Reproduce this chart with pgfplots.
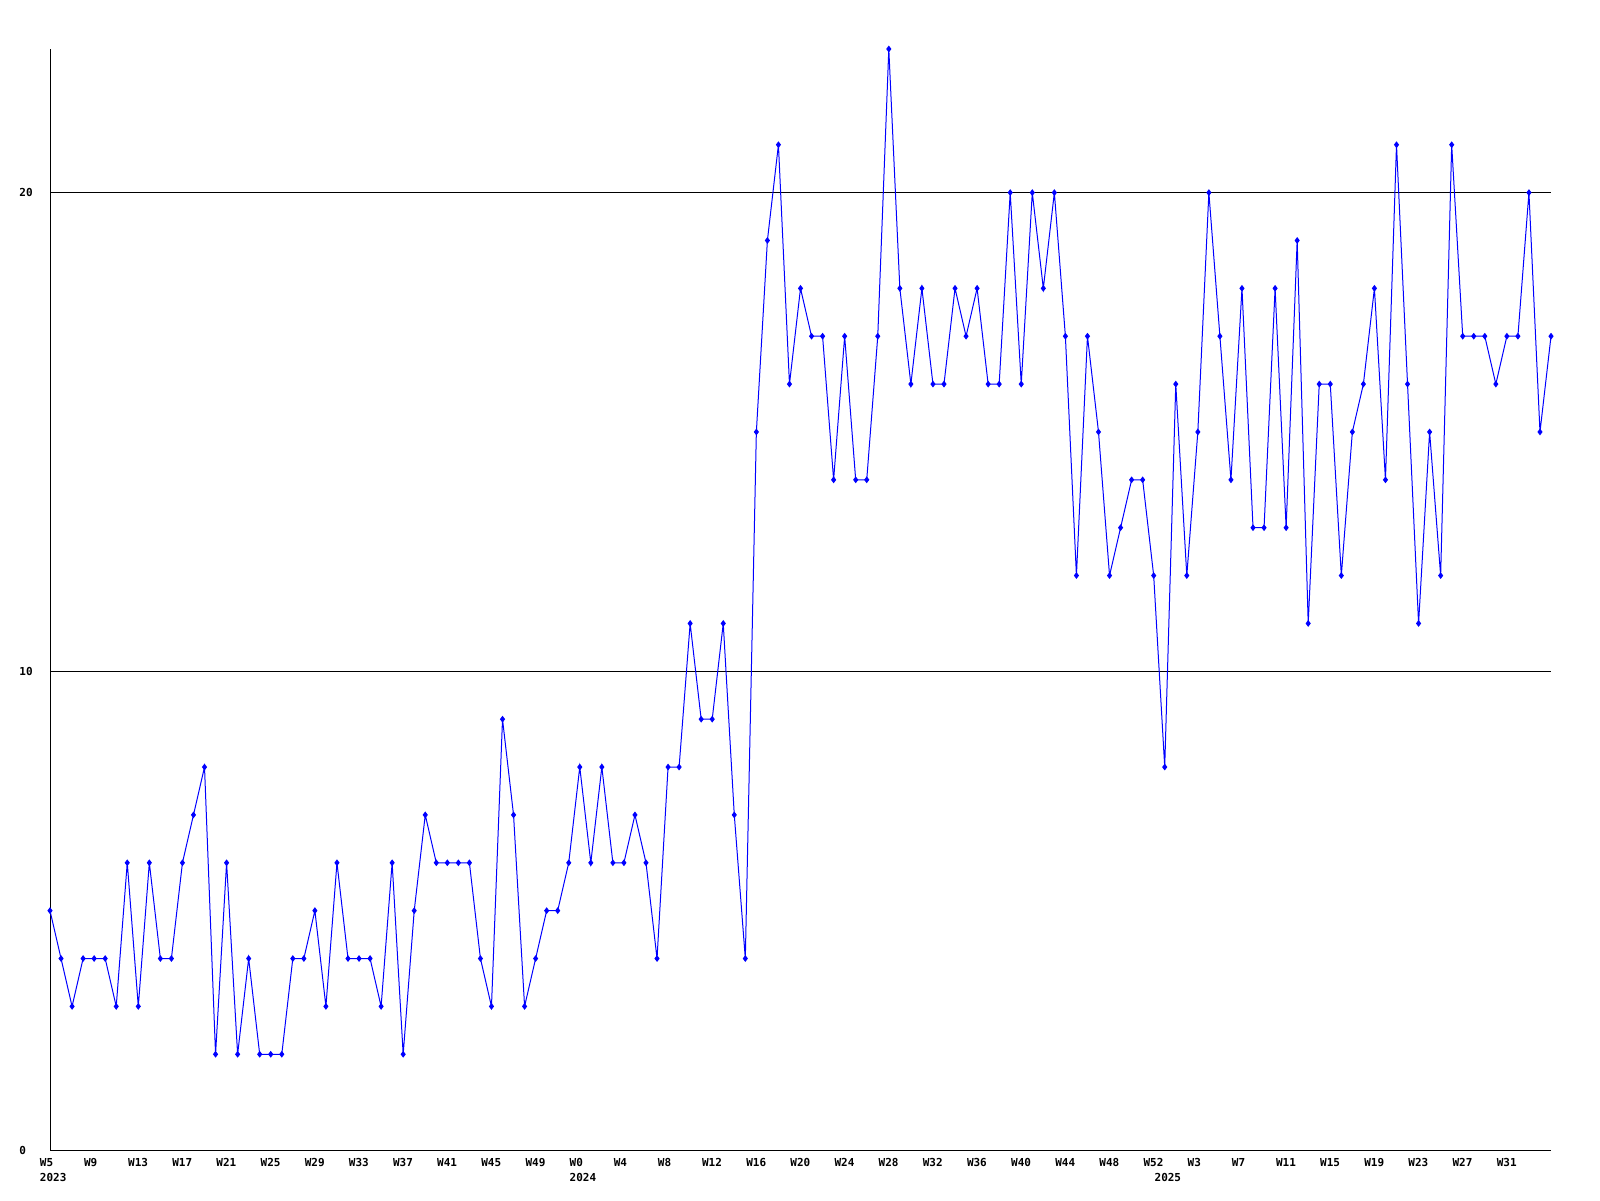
\documentclass[border=0pt]{standalone}
\usepackage{fontspec}
\usepackage{pgfplots}
\pgfplotsset{compat=1.18}
\newfontfamily\pix{DejaVu Sans Mono}
\begin{document}
\begin{tikzpicture}
\useasboundingbox (0,0) rectangle (800pt,600pt);
\begin{axis}[
  at={(25pt,25pt)}, anchor=south west,
  scale only axis, width=750.5pt, height=550.5pt,
  xmin=0, xmax=136, ymin=0, ymax=23,
  axis x line=bottom, axis y line=left,
  axis line style={-, black, line width=0.5pt},
  major tick length=0pt,
  clip=false,
  ytick={0,10,20}, yticklabels={0,10,20},
  ymajorgrids, grid style={black, line width=0.5pt},
  xtick={0,4,...,132},
  xticklabels={W5,W9,W13,W17,W21,W25,W29,W33,W37,W41,W45,W49,W0,W4,W8,W12,W16,W20,W24,W28,W32,W36,W40,W44,W48,W52,W3,W7,W11,W15,W19,W23,W27,W31},
  tick label style={font=\pix\bfseries\fontsize{5.5}{6}\selectfont, inner sep=0pt},
  xticklabel style={anchor=north west, xshift=-5.25pt, yshift=-4pt},
  yticklabel style={anchor=west, xshift=-15.5pt},
  extra x ticks={0,48,101},
  extra x tick labels={2023,2024,2025},
  extra x tick style={xmajorgrids=false, major tick length=0pt,
    xticklabel style={yshift=-7.6pt}},
  /pgf/number format/assume math mode=true,
]
\addplot[color={rgb,255:red,0;green,0;blue,255}, line width=0.5pt, mark=diamond*, mark size=1.3pt] table[x expr=\coordindex, y index=0, header=false] {
5
4
3
4
4
4
3
6
3
6
4
4
6
7
8
2
6
2
4
2
2
2
4
4
5
3
6
4
4
4
3
6
2
5
7
6
6
6
6
4
3
9
7
3
4
5
5
6
8
6
8
6
6
7
6
4
8
8
11
9
9
11
7
4
15
19
21
16
18
17
17
14
17
14
14
17
23
18
16
18
16
16
18
17
18
16
16
20
16
20
18
20
17
12
17
15
12
13
14
14
12
8
16
12
15
20
17
14
18
13
13
18
13
19
11
16
16
12
15
16
18
14
21
16
11
15
12
21
17
17
17
16
17
17
20
15
17
};
\end{axis}
\end{tikzpicture}
\end{document}
